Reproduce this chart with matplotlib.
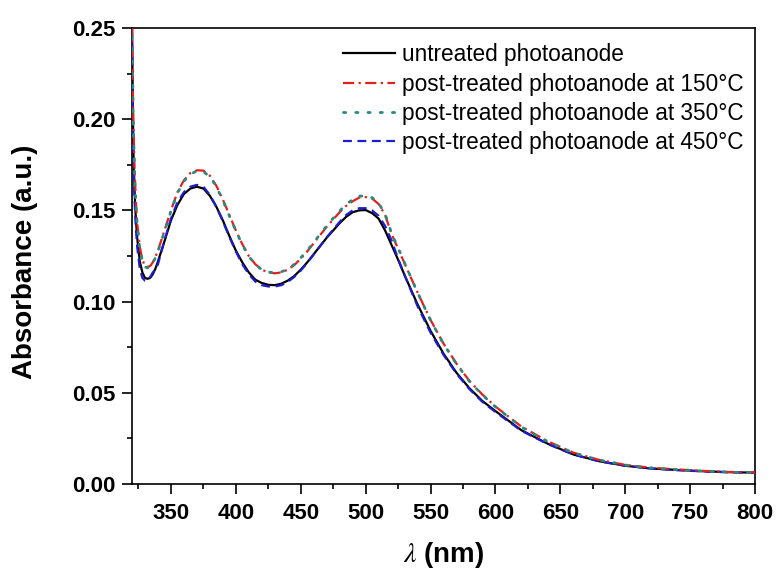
# UV-vis absorbance spectra of the photoanodes

import matplotlib
matplotlib.use("Agg")
import matplotlib.pyplot as plt
from matplotlib.ticker import MultipleLocator, FormatStrFormatter

plt.rcParams['font.family'] = ['Liberation Sans', 'DejaVu Sans']
plt.rcParams['mathtext.fontset'] = 'stix'

# wavelength grid (nm)
wavelength = [320, 321, 322, 323, 324, 326, 328, 330, 332, 334, 336, 338, 340,
              345, 350, 355, 360, 365, 370, 375, 380, 385, 390, 395, 400,
              405, 410, 415, 420, 425, 430, 435, 440, 445, 450, 455, 460,
              465, 470, 475, 480, 485, 490, 495, 500, 505, 510, 515, 520,
              525, 530, 540, 550, 560, 570, 580, 590, 600, 620, 640, 660,
              680, 700, 720, 740, 760, 780, 800]

untreated = [0.252, 0.185, 0.160, 0.145, 0.135, 0.122, 0.116, 0.113, 0.1125, 0.113,
             0.115, 0.118, 0.122, 0.133, 0.1445, 0.153, 0.159, 0.162, 0.163,
             0.162, 0.158, 0.152, 0.1445, 0.136, 0.128, 0.1215, 0.116, 0.112,
             0.1102, 0.1092, 0.109, 0.1098, 0.1115, 0.114, 0.1175, 0.1215,
             0.126, 0.1305, 0.135, 0.139, 0.143, 0.1465, 0.149, 0.150, 0.1502,
             0.1485, 0.1455, 0.139, 0.131, 0.123, 0.1145, 0.0985, 0.084,
             0.0715, 0.061, 0.0525, 0.0455, 0.040, 0.0295, 0.0222, 0.0162,
             0.0125, 0.010, 0.0085, 0.0077, 0.007, 0.0065, 0.0062]

treated150 = [0.252, 0.200, 0.172, 0.155, 0.143, 0.130, 0.123, 0.1195, 0.119, 0.1195,
              0.1215, 0.1245, 0.128, 0.139, 0.150, 0.160, 0.1665, 0.1705, 0.172,
              0.1718, 0.169, 0.1635, 0.156, 0.1475, 0.139, 0.1315, 0.125,
              0.1205, 0.1175, 0.116, 0.1155, 0.116, 0.1175, 0.120, 0.1235,
              0.1275, 0.132, 0.1365, 0.141, 0.145, 0.149, 0.1525, 0.155, 0.157,
              0.1573, 0.1565, 0.1535, 0.1475, 0.137, 0.129, 0.121, 0.105,
              0.090, 0.077, 0.066, 0.0565, 0.049, 0.0425, 0.0315, 0.0235,
              0.0172, 0.0132, 0.0105, 0.0089, 0.008, 0.0072, 0.0066, 0.0063]

treated350 = [0.252, 0.198, 0.170, 0.153, 0.142, 0.129, 0.1225, 0.119, 0.1185, 0.119,
              0.121, 0.124, 0.1275, 0.1385, 0.1495, 0.1595, 0.166, 0.170, 0.1715,
              0.1712, 0.1685, 0.163, 0.1555, 0.147, 0.1388, 0.1312, 0.1248,
              0.1203, 0.1175, 0.1162, 0.1158, 0.1163, 0.1178, 0.1204, 0.124,
              0.128, 0.1325, 0.137, 0.1415, 0.1457, 0.1497, 0.1533, 0.156, 0.1578,
              0.158, 0.157, 0.154, 0.148, 0.1375, 0.1295, 0.1212, 0.105,
              0.0898, 0.0768, 0.0658, 0.0563, 0.0488, 0.0423, 0.0313, 0.0233,
              0.0171, 0.0131, 0.0104, 0.0088, 0.0079, 0.0071, 0.0065, 0.0062]

treated450 = [0.250, 0.180, 0.155, 0.140, 0.130, 0.118, 0.113, 0.1115, 0.1115, 0.1135,
              0.116, 0.1175, 0.1205, 0.1335, 0.1455, 0.1545, 0.160, 0.163, 0.164,
              0.163, 0.1585, 0.152, 0.144, 0.1355, 0.1275, 0.1205, 0.115, 0.111,
              0.109, 0.1083, 0.1083, 0.109, 0.1108, 0.1135, 0.117, 0.1212,
              0.1258, 0.1305, 0.1352, 0.1395, 0.1437, 0.1475, 0.150, 0.1512,
              0.1512, 0.150, 0.147, 0.1415, 0.1335, 0.1235, 0.1145, 0.0975,
              0.083, 0.0708, 0.0605, 0.052, 0.045, 0.0395, 0.0292, 0.022,
              0.0162, 0.0124, 0.010, 0.0085, 0.0076, 0.0069, 0.0064, 0.0061]

seriesLabels = ["untreated photoanode",
                "post-treated photoanode at 150°C",
                "post-treated photoanode at 350°C",
                "post-treated photoanode at 450°C"]

fig = plt.figure(figsize=(7.78, 5.69), dpi=100)
ax = fig.add_axes([132/778, 85/569, 623/778, 456/569])

ax.plot(wavelength, untreated, color='black', lw=1.6, zorder=2,
        label=seriesLabels[0])
ax.plot(wavelength, treated150, color='#e3201c', lw=1.6, zorder=4,
        linestyle=(0, (5, 2, 1, 2)), label=seriesLabels[1])
ax.plot(wavelength, treated350, color='#2a8a7e', lw=2.0, zorder=5,
        linestyle=(0, (0.8, 3.6)), dash_capstyle='round', label=seriesLabels[2])
ax.plot(wavelength, treated450, color='#1c1cd0', lw=1.6, zorder=3,
        linestyle=(0, (4, 2.5)), label=seriesLabels[3])

ax.set_xlim(320, 800)
ax.set_ylim(0, 0.25)
ax.xaxis.set_major_locator(MultipleLocator(50))
ax.xaxis.set_minor_locator(MultipleLocator(25))
ax.yaxis.set_major_locator(MultipleLocator(0.05))
ax.yaxis.set_minor_locator(MultipleLocator(0.025))
ax.yaxis.set_major_formatter(FormatStrFormatter('%.2f'))

ax.tick_params(which='major', direction='out', length=7, width=1.2, pad=5,
               labelsize=16, top=False, right=False)
ax.tick_params(which='minor', direction='out', length=3.8, width=1.2,
               top=False, right=False)
ax.tick_params(axis='x', which='major', pad=6.5)
for lab in ax.get_xticklabels() + ax.get_yticklabels():
    lab.set_fontweight('bold')
for sp in ax.spines.values():
    sp.set_linewidth(1.2)

fig.text(25/778, 1 - 262/569, "Absorbance (a.u.)", rotation=90,
         ha='center', va='center', fontsize=20, fontweight='bold')
fig.text(444/778, 1 - 555/569, r"$\lambda$ (nm)", ha='center', va='center',
         fontsize=20, fontweight='bold')

ax.legend(loc='upper right', bbox_to_anchor=(755/778, 1 - 32/569),
          bbox_transform=fig.transFigure, frameon=False, fontsize=16.3,
          borderpad=0, labelspacing=0.28, handlelength=2.3, handletextpad=0.3)

fig.savefig("out.png", dpi=100)
